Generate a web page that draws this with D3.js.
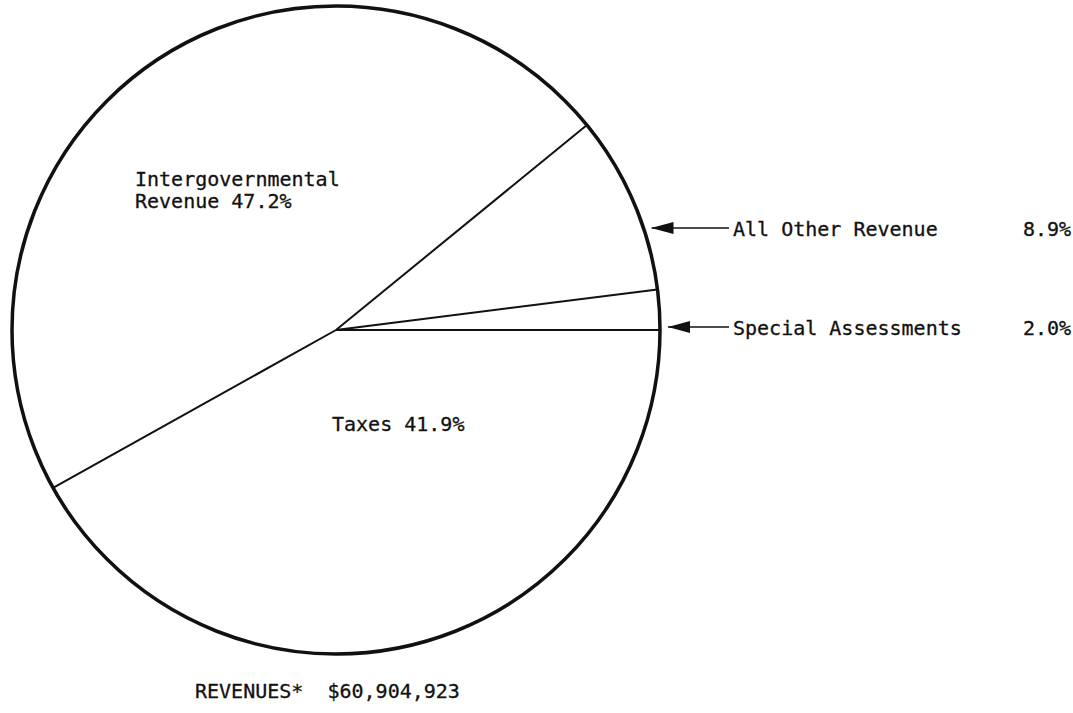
<!DOCTYPE html>
<html>
<head>
<meta charset="utf-8">
<script src="https://cdn.jsdelivr.net/npm/d3@7"></script>
<style>
  body { margin: 0; background: #fff; }
  text { font-family: "DejaVu Sans Mono", "Liberation Mono", monospace; font-size: 20px; fill: #111; stroke: #111; stroke-width: 0.3; }
</style>
</head>
<body>
<div id="chart"></div>
<script>
// Revenue pie, slices drawn clockwise from 3 o'clock
var categories = ['Taxes', 'Intergovernmental Revenue', 'All Other Revenue', 'Special Assessments'];
var values = [41.9, 47.2, 8.9, 2.0];
var totalLabel = 'REVENUES*  $60,904,923';

var width = 1073, height = 713;
var cx = 336, cy = 330, r = 324;

var svg = d3.select('#chart').append('svg').attr('width', width).attr('height', height);

svg.append('defs').append('marker').attr('id', 'arrow').attr('viewBox', '0 0 22 12').attr('refX', 22).attr('refY', 6)
    .attr('markerWidth', 22).attr('markerHeight', 12).attr('markerUnits', 'userSpaceOnUse').attr('orient', 'auto')
    .append('path').attr('d', 'M22,6 L0,0 L0,12 Z').attr('fill', '#111');

var pie = d3.pie().sort(null).startAngle(Math.PI / 2).endAngle(Math.PI / 2 + 2 * Math.PI);
var arcs = pie(values);
var g = svg.append('g').attr('transform', 'translate(' + cx + ',' + cy + ')');

// slice boundaries
g.selectAll('.edge').data(arcs).enter().append('line').attr('class', 'edge')
    .attr('x1', 0).attr('y1', 0)
    .attr('x2', function(d) { return r * Math.sin(d.startAngle); })
    .attr('y2', function(d) { return -r * Math.cos(d.startAngle); })
    .attr('stroke', '#111').attr('stroke-width', 2);

g.append('circle').attr('r', r).attr('fill', 'none').attr('stroke', '#111').attr('stroke-width', 3.5);

// inside labels
var taxes = g.append('text').attr('x', 332 - cx).attr('y', 431 - cy);
taxes.text(categories[0] + ' ' + values[0].toFixed(1) + '%');

var inter = g.append('text').attr('x', 135 - cx).attr('y', 186 - cy);
inter.append('tspan').attr('x', 135 - cx).text('Intergovernmental');
inter.append('tspan').attr('x', 135 - cx).attr('dy', 22).text('Revenue ' + values[1].toFixed(1) + '%');

// outside labels with arrows
var outside = [{ i: 2, y: 228 }, { i: 3, y: 327 }];
outside.forEach(function(o) {
    var dy = o.y - cy;
    var tip = cx + Math.sqrt(r * r - dy * dy) + 8;
    svg.append('line').attr('x1', 729).attr('y1', o.y).attr('x2', tip).attr('y2', o.y)
        .attr('stroke', '#111').attr('stroke-width', 1.5).attr('marker-end', 'url(#arrow)');
    svg.append('text').attr('x', 733).attr('y', o.y + 8).text(categories[o.i]);
    svg.append('text').attr('x', 1023).attr('y', o.y + 8).text(values[o.i].toFixed(1) + '%');
});

svg.append('text').attr('x', 195).attr('y', 698).attr('xml:space', 'preserve').style('white-space', 'pre').text(totalLabel);
</script>
</body>
</html>
